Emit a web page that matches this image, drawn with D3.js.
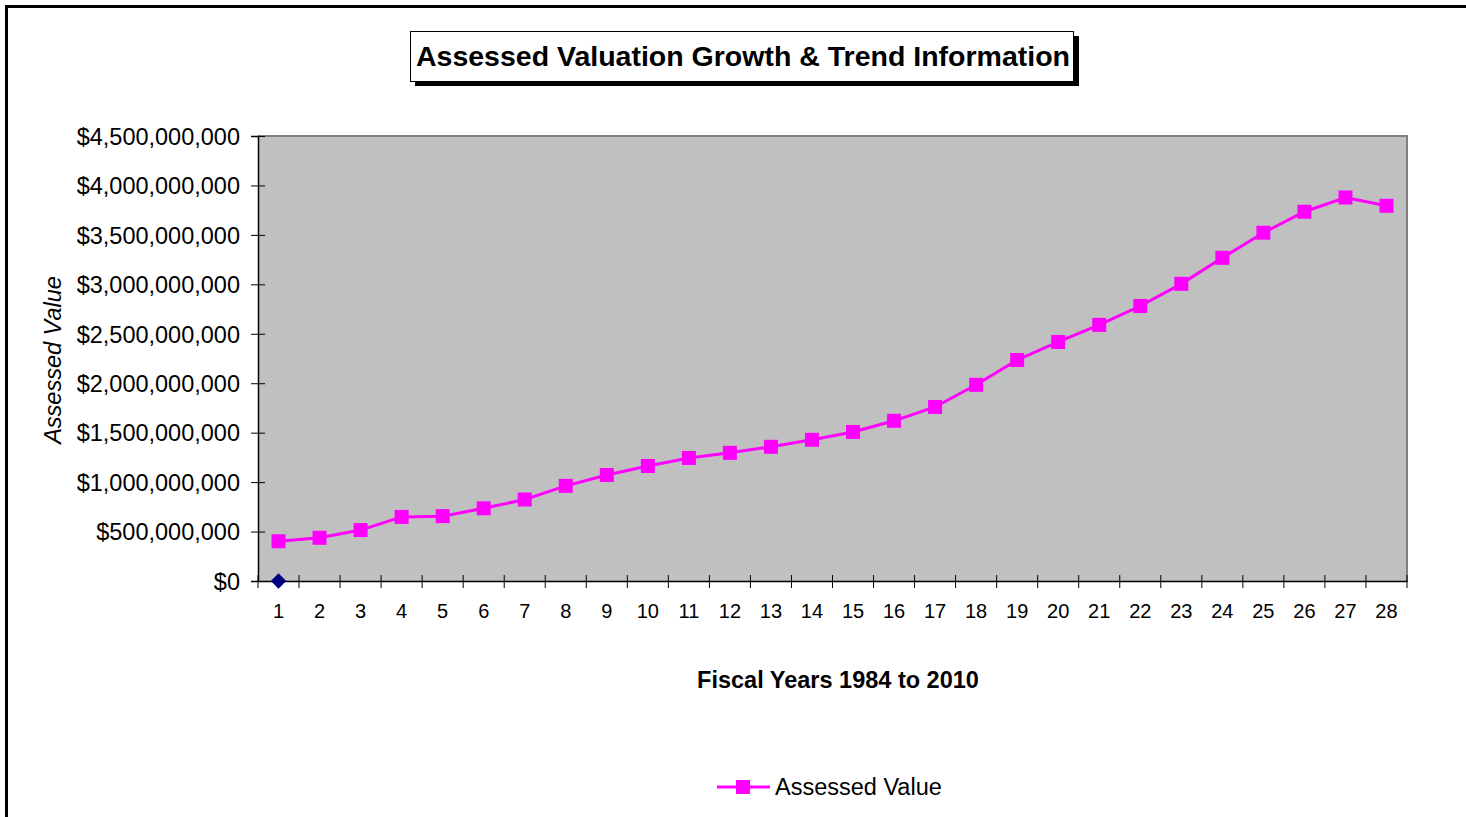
<!DOCTYPE html>
<html><head><meta charset="utf-8">
<script src="https://cdn.jsdelivr.net/npm/d3@7"></script>
<style>body{margin:0;background:#fff}svg{display:block}text{font-family:"Liberation Sans",Arial,sans-serif}</style>
</head><body>
<script>
const categories = d3.range(1, 29).map(String);
const assessedValue = [402e6,437e6,515e6,648e6,656e6,735e6,824e6,962e6,1072e6,1163e6,1244e6,1296e6,1357e6,1428e6,1507e6,1620e6,1760e6,1984e6,2235e6,2417e6,2590e6,2781e6,3005e6,3268e6,3522e6,3734e6,3878e6,3794e6];
const otherSeries = [0];
const yTicks = [0,500e6,1000e6,1500e6,2000e6,2500e6,3000e6,3500e6,4000e6,4500e6];

const W = 1466, H = 817;
const FF = "Liberation Sans, Arial, sans-serif";
const svg = d3.select("body").append("svg").attr("width", W).attr("height", H);
svg.append("rect").attr("width", W).attr("height", H).attr("fill", "#fff");
// outer frame
svg.append("path").attr("d", `M6.5,${H+5} V6.5 H${W+5}`).attr("fill","none").attr("stroke","#000").attr("stroke-width",3);

const m = {l:258, r:1407, t:136, b:581};
const x = d3.scaleBand().domain(categories).range([m.l, m.r]);
const y = d3.scaleLinear().domain([0, 4500e6]).range([m.b, m.t]);

svg.append("rect").attr("x", m.l).attr("y", m.t).attr("width", m.r-m.l).attr("height", m.b-m.t).attr("fill","#c0c0c0");
svg.append("path").attr("d", `M${m.l},${m.t} H${m.r} V${m.b}`).attr("fill","none").attr("stroke","#808080").attr("stroke-width",2);

// y axis
const fmt = v => "$" + d3.format(",")(v);
const ya = svg.append("g").attr("transform", `translate(${m.l},0)`)
  .call(d3.axisLeft(y).tickValues(yTicks).tickFormat(fmt).tickSize(7).tickPadding(11));
ya.select(".domain").attr("stroke","#000").attr("stroke-width",1.5);
ya.selectAll(".tick line").attr("stroke","#000").attr("x1",7);
ya.selectAll(".tick text").attr("font-size",23.5).attr("fill","#000").attr("font-family",FF).attr("dy","0.35em");

// x axis
const xa = svg.append("g").attr("transform", `translate(0,${m.b})`)
  .call(d3.axisBottom(x).tickSize(0).tickPadding(23));
xa.select(".domain").attr("stroke","#000").attr("stroke-width",1.5);
xa.selectAll(".tick text").attr("font-size",20).attr("fill","#000").attr("font-family",FF);
const bounds = categories.map(c => x(c)).concat([m.r]);
xa.selectAll(".bt").data(bounds).join("line").attr("class","bt")
  .attr("x1", d=>d).attr("x2", d=>d).attr("y1", -6).attr("y2", 7).attr("stroke","#000");

// line
const cx = c => x(c) + x.bandwidth()/2;
svg.append("path").datum(assessedValue)
  .attr("d", d3.line().x((d,i)=>cx(categories[i])).y(d=>y(d)))
  .attr("fill","none").attr("stroke","#ff00ff").attr("stroke-width",3);
svg.selectAll(".pt").data(assessedValue).join("rect").attr("class","pt")
  .attr("x",(d,i)=>cx(categories[i])-7).attr("y",d=>y(d)-7).attr("width",14).attr("height",14)
  .attr("fill","#ff00ff");
// second series diamond
svg.selectAll(".dm").data(otherSeries).join("path").attr("class","dm")
  .attr("d", d3.symbol().type(d3.symbolDiamond2).size(150)())
  .attr("transform",(d,i)=>`translate(${cx(categories[i])},${y(d)})`).attr("fill","#000080");

// title
const tg = svg.append("g");
tg.append("rect").attr("x",415).attr("y",36).attr("width",664).attr("height",50).attr("fill","#000");
tg.append("rect").attr("x",410.5).attr("y",31.5).attr("width",663).attr("height",50).attr("fill","#fff").attr("stroke","#000").attr("stroke-width",1);
tg.append("text").attr("x",743).attr("y",66).attr("text-anchor","middle").attr("font-size",28.5).attr("font-weight","bold").text("Assessed Valuation Growth & Trend Information");

// axis titles
svg.append("text").attr("transform","translate(61,360) rotate(-90)").attr("text-anchor","middle")
  .attr("font-size",23.5).attr("font-style","italic").text("Assessed Value");
svg.append("text").attr("x",838).attr("y",688).attr("text-anchor","middle").attr("font-size",23.5).attr("font-weight","bold").text("Fiscal Years 1984 to 2010");

// legend
svg.append("line").attr("x1",717).attr("x2",770).attr("y1",787).attr("y2",787).attr("stroke","#ff00ff").attr("stroke-width",3);
svg.append("rect").attr("x",736).attr("y",780).attr("width",14).attr("height",14).attr("fill","#ff00ff");
svg.append("text").attr("x",775).attr("y",795).attr("font-size",23.5).text("Assessed Value");
</script>
</body></html>
